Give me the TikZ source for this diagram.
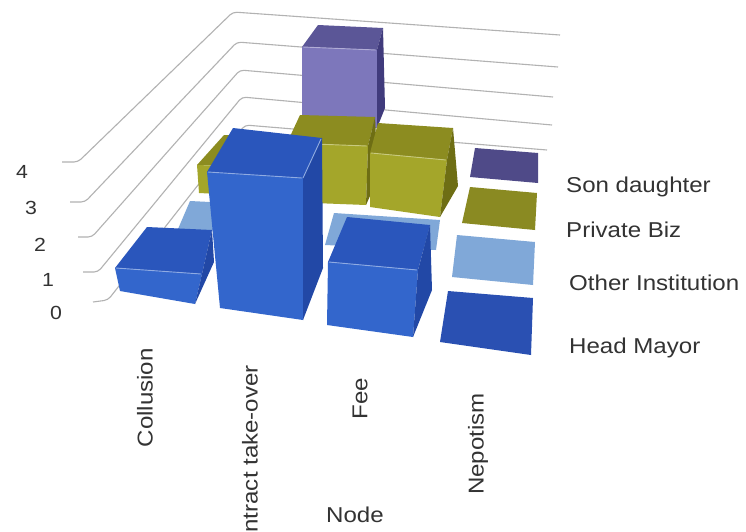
\documentclass[tikz,border=0pt]{standalone}
\usepackage{fontspec}
\setmainfont[FakeStretch=1.12]{Liberation Sans}
\definecolor{hmF}{HTML}{3366CC}
\definecolor{hmT}{HTML}{2A56BC}
\definecolor{hmS}{HTML}{2248A6}
\definecolor{hmTile}{HTML}{2A50B2}
\definecolor{oiC}{HTML}{80A8D8}
\definecolor{pbF}{HTML}{A4A62A}
\definecolor{pbT}{HTML}{8C8C20}
\definecolor{pbS}{HTML}{6E6E14}
\definecolor{pbTile}{HTML}{8A8A22}
\definecolor{sdF}{HTML}{7D77BB}
\definecolor{sdT}{HTML}{5B5697}
\definecolor{sdS}{HTML}{403B7C}
\definecolor{sdTile}{HTML}{4F4A88}
\definecolor{txt}{HTML}{333333}
\begin{document}
\begin{tikzpicture}[x=1pt,y=-1pt,
  gridline/.style={draw=gray!60,line width=1.1pt,rounded corners=4pt},
  hilite/.style={draw=#1,line width=0.9pt},
  tick/.style={text=txt,font=\fontsize{19}{21}\selectfont,inner sep=0pt},
  legend/.style={text=txt,font=\fontsize{21.5}{24}\selectfont,anchor=west,inner sep=0pt},
  catlabel/.style={text=txt,font=\fontsize{21.5}{24}\selectfont,rotate=90,anchor=east,inner sep=0pt}]
\useasboundingbox (0,0) rectangle (746,531);
\fill[white] (0,0) rectangle (746,531);

% gridlines
\draw[gridline] (62,162) -- (78,162) -- (233,12) -- (560,35);
\draw[gridline] (70,202) -- (85,202) -- (237,42) -- (558,67);
\draw[gridline] (78,237) -- (92,237) -- (240,70) -- (553,97);
\draw[gridline] (83,272) -- (98,272) -- (242,97) -- (552,125);
\draw[gridline] (93,302) -- (108,300) -- (245,125) -- (547,150);

% tick labels
\node[tick] (t4) at (22,172) {4};
\node[tick] (t3) at (31,208) {3};
\node[tick] (t2) at (40,245) {2};
\node[tick] (t1) at (48,280) {1};
\node[tick] (t0) at (56,313) {0};

% Son daughter: contract take-over bar
\fill[sdT] (302,47) -- (318,25) -- (383,28) -- (377,50) -- cycle;
\fill[sdF] (302,47) -- (377,50) -- (377,128) -- (302,125) -- cycle;
\fill[sdS] (377,50) -- (383,28) -- (385,108) -- (377,128) -- cycle;
\draw[hilite=sdF!60!white] (303,47) -- (376,50);
% Son daughter: nepotism tile
\fill[sdTile] (475,148) -- (538,153) -- (538,183) -- (470,177) -- cycle;

% Private Biz bars
\fill[pbT] (197,165) -- (224,135) -- (300,138) -- (280,168) -- cycle;
\fill[pbF] (197,165) -- (280,168) -- (278,197) -- (199,193) -- cycle;
\fill[pbT] (287,143) -- (300,115) -- (375,117) -- (368,146) -- cycle;
\fill[pbF] (287,143) -- (368,146) -- (366,205) -- (288,202) -- cycle;
\fill[pbS] (368,146) -- (375,117) -- (378,178) -- (366,205) -- cycle;
\draw[hilite=pbF!60!white] (288,143) -- (367,146);
\fill[pbT] (370,153) -- (378,123) -- (453,128) -- (447,160) -- cycle;
\fill[pbF] (370,153) -- (447,160) -- (440,217) -- (370,207) -- cycle;
\fill[pbS] (447,160) -- (453,128) -- (458,186) -- (440,217) -- cycle;
\draw[hilite=pbF!60!white] (371,153) -- (446,160);
\fill[pbTile] (470,187) -- (537,193) -- (535,230) -- (462,223) -- cycle;

% Other Institution tiles
\fill[oiC] (178,229) -- (190,201) -- (250,204) -- (245,232) -- cycle;
\fill[oiC] (325,245) -- (334,213) -- (440,220) -- (436,250) -- cycle;
\fill[oiC] (457,235) -- (535,242) -- (533,285) -- (452,277) -- cycle;

% Head Mayor: collusion
\fill[hmT] (115,268) -- (147,227) -- (212,230) -- (202,274) -- cycle;
\fill[hmF] (115,268) -- (202,274) -- (195,304) -- (120,291) -- cycle;
\fill[hmS] (202,274) -- (212,230) -- (214,262) -- (195,304) -- cycle;
\draw[hilite=hmF!55!white] (116,268) -- (201,274);
% Head Mayor: contract take-over
\fill[hmT] (207,172) -- (233,128) -- (322,138) -- (303,178) -- cycle;
\fill[hmF] (207,172) -- (303,178) -- (303,320) -- (220,308) -- cycle;
\fill[hmS] (303,178) -- (322,138) -- (323,268) -- (303,320) -- cycle;
\draw[hilite=hmF!55!white] (208,172) -- (302,178);
\draw[hilite=hmF!55!white] (303,178) -- (321,139);
% Head Mayor: fee
\fill[hmT] (328,262) -- (347,217) -- (430,225) -- (418,270) -- cycle;
\fill[hmF] (328,262) -- (418,270) -- (413,337) -- (327,325) -- cycle;
\fill[hmS] (418,270) -- (430,225) -- (432,290) -- (413,337) -- cycle;
\draw[hilite=hmF!55!white] (329,262) -- (417,270);
% Head Mayor: nepotism tile
\fill[hmTile] (448,291) -- (533,298) -- (531,355) -- (440,342) -- cycle;

% legend
\node[legend] (lsd) at (566,187) {Son daughter};
\node[legend] (lpb) at (566,230) {Private Biz};
\node[legend] (loi) at (569,283) {Other Institution};
\node[legend] (lhm) at (569,348) {Head Mayor};

% category labels
\node[catlabel] (ccol) at (145,348) {Collusion};
\node[catlabel] (ccon) at (250,365) {Contract take-over};
\node[catlabel] (cfee) at (360,378) {Fee};
\node[catlabel] (cnep) at (478,393) {Nepotism};
\node[text=txt,font=\fontsize{21.5}{24}\selectfont,inner sep=0pt] (axis) at (355,515) {Node};
\end{tikzpicture}
\end{document}
